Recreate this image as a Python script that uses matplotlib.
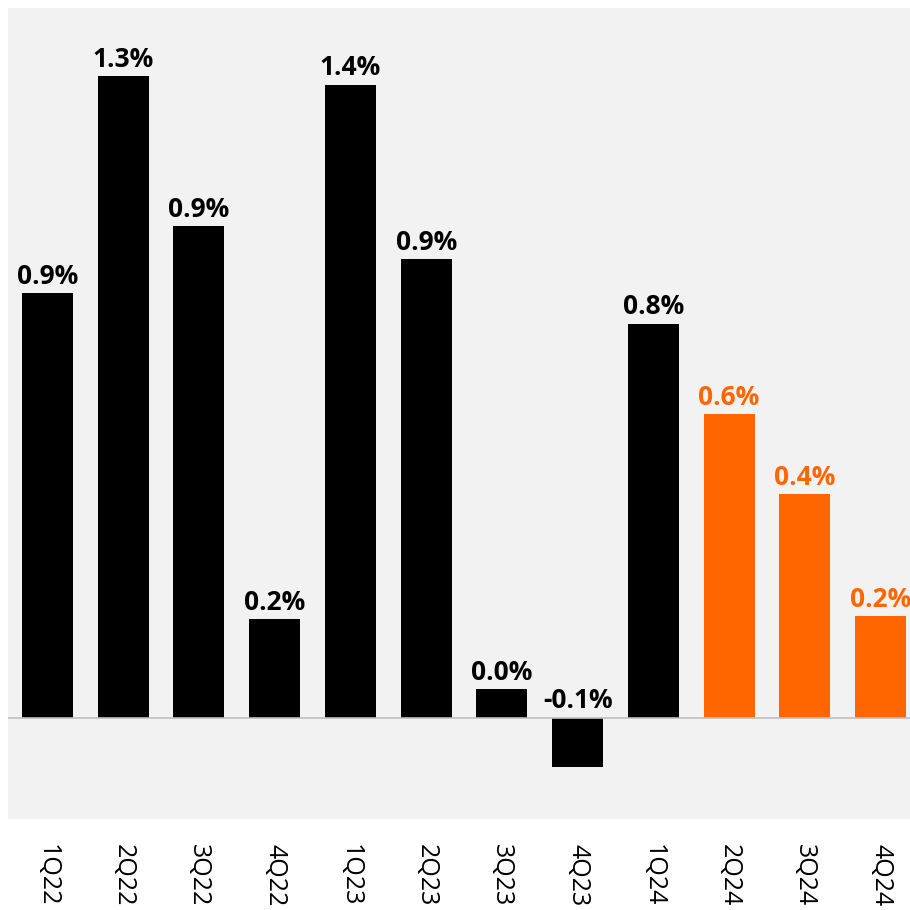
import matplotlib
matplotlib.use("Agg")
import matplotlib.pyplot as plt

plt.rcParams['font.family'] = ['Open Sans', 'DejaVu Sans']

quarters = ["1Q22", "2Q22", "3Q22", "4Q22", "1Q23", "2Q23",
            "3Q23", "4Q23", "1Q24", "2Q24", "3Q24", "4Q24"]
# bar heights (%)
values = [0.849, 1.283, 0.983, 0.197, 1.266, 0.917,
          0.057, -0.099, 0.788, 0.607, 0.447, 0.203]
# printed labels
labels = ["0.9%", "1.3%", "0.9%", "0.2%", "1.4%", "0.9%",
          "0.0%", "-0.1%", "0.8%", "0.6%", "0.4%", "0.2%"]
forecast = [False] * 9 + [True] * 3

BLACK = "#000000"
ORANGE = "#FF6600"

fig = plt.figure(figsize=(9.1, 9.1), dpi=100)
# axes runs a little past the right edge, like the source
ax = fig.add_axes([8 / 910, 91 / 910, 912 / 910, 811 / 910])
ax.set_facecolor("#F2F2F2")

x = list(range(len(quarters)))
colors = [ORANGE if f else BLACK for f in forecast]
ax.bar(x, values, width=0.673, color=colors, zorder=2)
ax.axhline(0, color="#BFBFBF", linewidth=1.2, zorder=3)

for xi, v, lab, c in zip(x, values, labels, colors):
    y = max(v, 0)
    ax.annotate(lab, (xi, y), xytext=(0, 2.5), textcoords="offset points",
                ha="center", va="bottom", fontsize=19, fontweight="bold",
                color=c, zorder=4)

ax.set_xlim(-0.52, 11.52)
ax.set_ylim(-0.203, 1.419)
ax.set_xticks(x)
ax.set_xticklabels(quarters, rotation=270, fontsize=18, va="top", ha="center")
ax.tick_params(axis="x", length=0, pad=18)
ax.set_yticks([])
for s in ax.spines.values():
    s.set_visible(False)

fig.savefig("out.png", dpi=100, facecolor="white")
